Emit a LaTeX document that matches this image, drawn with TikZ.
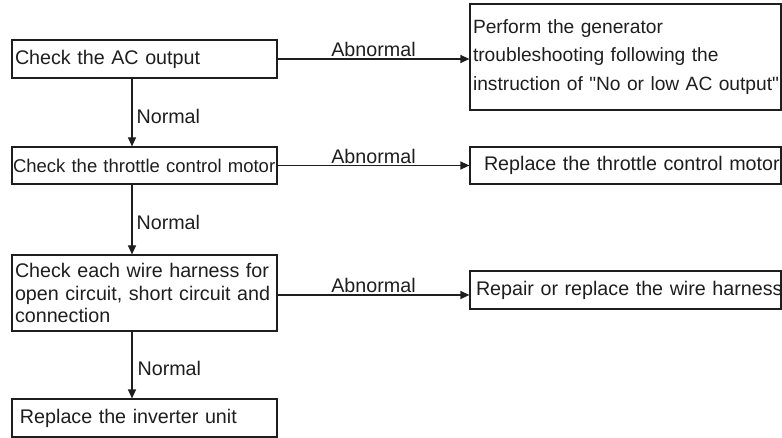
\documentclass[tikz,border=0pt]{standalone}
\usepackage{fontspec}
\setmainfont{Liberation Sans}
\usetikzlibrary{arrows.meta}
\definecolor{ink}{HTML}{1E1E1E}
\hyphenpenalty=10000
\exhyphenpenalty=10000
\hbadness=10000
\hfuzz=50pt
\begin{document}
\begin{tikzpicture}[x=1pt,y=-1pt,
  every node/.style={text=ink},
  box/.style={draw=ink, line width=1.2pt, rectangle, align=left, inner ysep=0pt, inner xsep=3pt,
    font=\fontsize{19.7}{24}\selectfont},
  lbl/.style={inner sep=1.5pt, font=\fontsize{19.7}{24}\selectfont},
  arr/.style={draw=ink, line width=1.2pt, -{Triangle[length=9pt,width=8pt]}}]
\useasboundingbox (0,0) rectangle (782,438);
% left column
\node[box, minimum width=265pt, minimum height=38pt, text width=259pt]
  (b1) at (144.5,59) {\mbox{Check the AC output}};
\node[box, minimum width=265pt, minimum height=37pt, text width=263pt, inner xsep=1pt,
  font=\fontsize{18.5}{22}\selectfont]
  (b3) at (144.5,165.5) {\mbox{Check the throttle control motor}};
\node[box, minimum width=265pt, minimum height=76pt, text width=259pt,
  font=\fontsize{19.7}{22.5}\selectfont]
  (b5) at (144.5,293) {\mbox{Check each wire harness for}\\\mbox{open circuit, short circuit and}\\\mbox{connection}};
\node[box, minimum width=265pt, minimum height=38pt, text width=259pt]
  (b7) at (144.5,418) {\hspace*{5pt}\mbox{Replace the inverter unit}};
% right column
\node[box, minimum width=311pt, minimum height=106pt, text width=305pt,
  font=\fontsize{19.2}{28.5}\selectfont]
  (b2) at (625.5,57) {\mbox{Perform the generator}\\\mbox{troubleshooting following the}\\\mbox{instruction of \textquotedbl No or low AC output\textquotedbl}};
\node[box, minimum width=311pt, minimum height=37pt, text width=305pt]
  (b4) at (625.5,165.5) {\hspace*{11pt}\mbox{Replace the throttle control motor}};
\node[box, minimum width=311pt, minimum height=38pt, text width=305pt]
  (b6) at (625.5,290) {\hspace*{3pt}\mbox{Repair or replace the wire harness}};
% vertical connectors
\coordinate (vx) at (132,0);
\draw[arr] (b1.south -| vx) -- node[lbl, right, inner xsep=4pt, yshift=-4pt] (n1) {Normal} (b3.north -| vx);
\draw[arr] (b3.south -| vx) -- node[lbl, right, inner xsep=4pt, yshift=-2.5pt] (n2) {Normal} (b5.north -| vx);
\draw[arr] (b5.south -| vx) -- node[lbl, right, inner xsep=5pt, yshift=-3pt] (n3) {Normal} (b7.north -| vx);
% horizontal connectors
\draw[arr] (b1.east) -- node[lbl, above] (a1) {Abnormal} (b1.east -| b2.west);
\draw[arr] (b3.east) -- node[lbl, above] (a2) {Abnormal} (b3.east -| b4.west);
\draw[arr] ([yshift=-2pt]b5.east) -- node[lbl, above] (a3) {Abnormal} ([yshift=-2pt]b5.east -| b6.west);
\end{tikzpicture}
\end{document}
